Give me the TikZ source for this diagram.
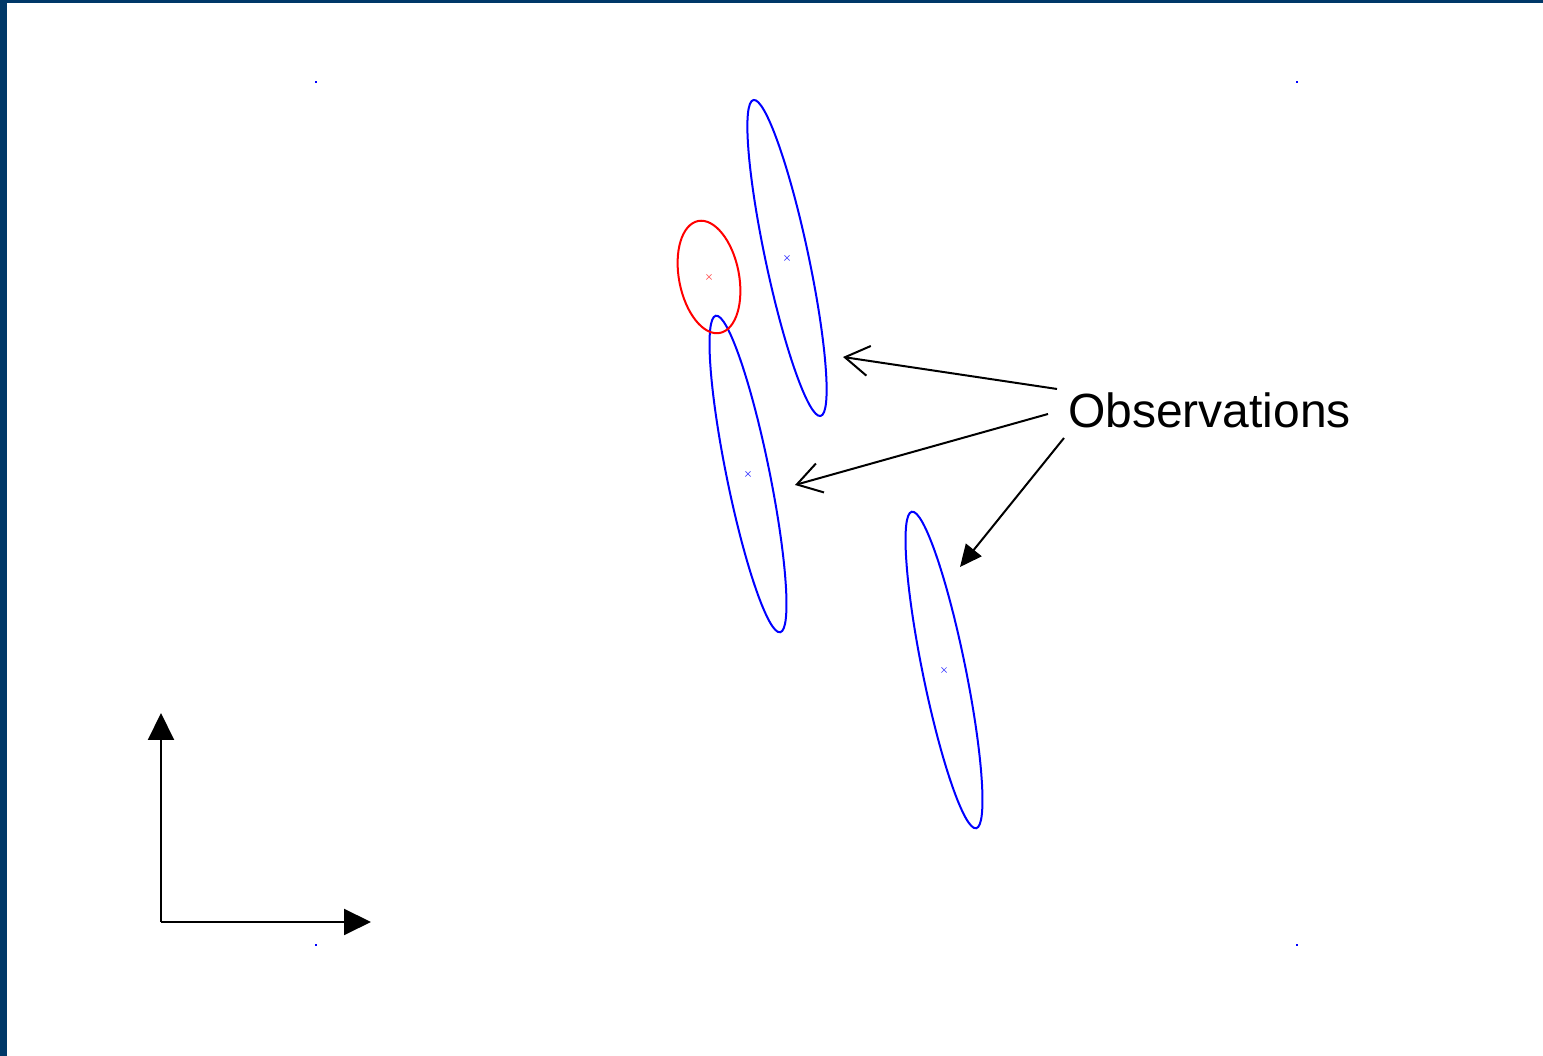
\documentclass[tikz,border=0pt]{standalone}
\usepackage{fontspec}
\setmainfont{Liberation Sans}
\usetikzlibrary{shapes.geometric,shapes.misc,arrows.meta}
\definecolor{frameblue}{RGB}{0,56,104}
\begin{document}
\begin{tikzpicture}[x=1pt,y=1pt,
  obsell/.style={draw=blue,line width=2pt,ellipse,inner sep=0pt,
    minimum width=43pt,minimum height=323pt},
  redell/.style={draw=red,line width=2pt,ellipse,inner sep=0pt,
    minimum width=60pt,minimum height=114pt},
  ctr/.style={cross out,draw,line width=0.7pt,inner sep=0pt,minimum size=4.5pt},
  openarrow/.style={line width=2pt,-{Straight Barb[length=24pt,width=30pt,line width=2pt]}},
  fillarrow/.style={line width=2pt,-{Triangle[length=22pt,width=20pt]}},
  axisarrow/.style={line width=2pt,-{Triangle[length=27pt,width=26pt]}},
  speck/.style={fill=blue,inner sep=0pt,minimum size=1.3pt}]
\useasboundingbox (0,0) rectangle (1543,1056);
\fill[white] (0,0) rectangle (1543,1056);
\fill[frameblue] (0,0) rectangle (7,1056);
\fill[frameblue] (0,1053) rectangle (1543,1056);

% corner specks
\node[speck] (sp1) at (316,974) {};
\node[speck] (sp2) at (1297,974) {};
\node[speck] (sp3) at (316,111) {};
\node[speck] (sp4) at (1297,111) {};

% ellipses
\node[obsell,rotate=12] (e1) at (787,798) {};
\node[obsell,rotate=11.5] (e2) at (748,582) {};
\node[obsell,rotate=11.5] (e3) at (944,386) {};
\node[redell,rotate=11] (r1) at (709,779) {};

% centres
\node[ctr,draw=blue!70] (c1) at (787,798) {};
\node[ctr,draw=blue!70] (c2) at (748,582) {};
\node[ctr,draw=blue!70] (c3) at (944,386) {};
\node[ctr,draw=red!60] (c4) at (709,779) {};

% label and arrows
\node[font=\fontsize{48}{56}\selectfont,anchor=west,inner sep=0pt] (obs) at (1068,646) {Observations};
\coordinate (t1) at (843,699);
\coordinate (t2) at (795,571);
\coordinate (t3) at (960,489);
\draw[openarrow] ([shift={(-11,21)}]obs.west) -- (t1);
\draw[openarrow] ([shift={(-20,-4)}]obs.west) -- (t2);
\draw[fillarrow] ([shift={(-4,-28)}]obs.west) -- (t3);

% axes
\coordinate (origin) at (161,134);
\coordinate (ytip) at (161,343);
\coordinate (xtip) at (371,134);
\draw[axisarrow] (origin) -- (ytip);
\draw[axisarrow] (origin) -- (xtip);
\end{tikzpicture}
\end{document}
